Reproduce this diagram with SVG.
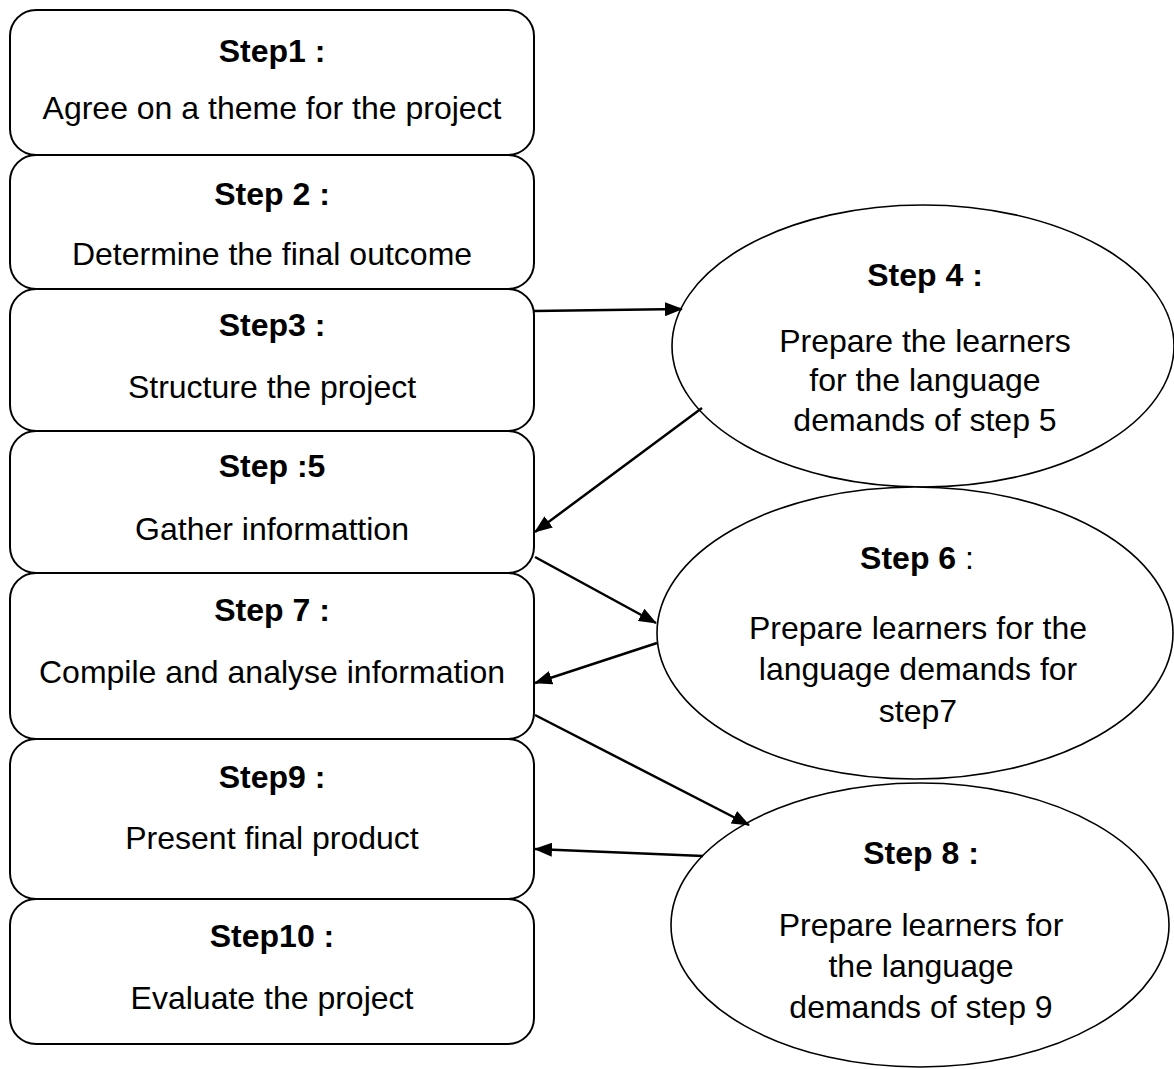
<svg xmlns="http://www.w3.org/2000/svg" width="1174" height="1069" viewBox="0 0 1174 1069">
<style>
.box{fill:#fff;stroke:#000;stroke-width:2}
.ell{fill:#fff;stroke:#000;stroke-width:1.6}
.h{font-family:"Liberation Sans",Arial,sans-serif;font-size:32px;font-weight:bold;text-anchor:middle;fill:#000}
.t{font-family:"Liberation Sans",Arial,sans-serif;font-size:32px;text-anchor:middle;fill:#000}
.c{stroke:#000;stroke-width:2.5;fill:none;marker-end:url(#arr)}
</style>
<defs>
<marker id="arr" viewBox="0 0 18 14" refX="17" refY="7" markerWidth="18" markerHeight="14" markerUnits="userSpaceOnUse" orient="auto">
<path d="M0,0 L18,7 L0,14 z" fill="#000"/>
</marker>
<clipPath id="clip4"><rect x="650" y="200" width="524" height="238"/></clipPath>
</defs>
<g id="step1"><rect class="box" x="10" y="10" width="524" height="145" rx="26"/><text class="h" x="272" y="62">Step1 :</text><text class="t" x="272" y="119">Agree on a theme for the project</text></g>
<g id="step2"><rect class="box" x="10" y="155" width="524" height="134" rx="26"/><text class="h" x="272" y="205">Step 2 :</text><text class="t" x="272" y="265">Determine the final outcome</text></g>
<g id="step3"><rect class="box" x="10" y="289" width="524" height="142" rx="26"/><text class="h" x="272" y="336">Step3 :</text><text class="t" x="272" y="398">Structure the project</text></g>
<g id="step5"><rect class="box" x="10" y="431" width="524" height="142" rx="26"/><text class="h" x="272" y="477">Step :5</text><text class="t" x="272" y="540">Gather informattion</text></g>
<g id="step7"><rect class="box" x="10" y="573" width="524" height="166" rx="26"/><text class="h" x="272" y="621">Step 7 :</text><text class="t" x="272" y="683">Compile and analyse information</text></g>
<g id="step9"><rect class="box" x="10" y="739" width="524" height="160" rx="26"/><text class="h" x="272" y="788">Step9 :</text><text class="t" x="272" y="849">Present final product</text></g>
<g id="step10"><rect class="box" x="10" y="899" width="524" height="145" rx="26"/><text class="h" x="272" y="947">Step10 :</text><text class="t" x="272" y="1009">Evaluate the project</text></g>
<g id="step4"><ellipse class="ell" cx="923" cy="346" rx="251" ry="141"/><g clip-path="url(#clip4)"><text class="h" x="925" y="286">Step 4 :</text><text class="t" x="925" y="352">Prepare the learners</text><text class="t" x="925" y="391">for the language</text><text class="t" x="925" y="431">demands of step 5</text></g></g>
<g id="step6"><ellipse class="ell" cx="915" cy="633" rx="258" ry="146"/><text class="t" x="917" y="569"><tspan font-weight="bold">Step 6</tspan> :</text><text class="t" x="918" y="639">Prepare learners for the</text><text class="t" x="918" y="680">language demands for</text><text class="t" x="918" y="722">step7</text></g>
<g id="step8"><ellipse class="ell" cx="920" cy="925" rx="249" ry="142"/><text class="h" x="921" y="864">Step 8 :</text><text class="t" x="921" y="936">Prepare learners for</text><text class="t" x="921" y="977">the language</text><text class="t" x="921" y="1018">demands of step 9</text></g>
<g id="connectors">
<line class="c" x1="534" y1="311" x2="682" y2="309"/>
<line class="c" x1="702" y1="408" x2="535" y2="532"/>
<line class="c" x1="535" y1="557" x2="656" y2="623"/>
<line class="c" x1="657" y1="643" x2="535" y2="683"/>
<line class="c" x1="535" y1="715" x2="749" y2="825"/>
<line class="c" x1="703" y1="856" x2="535" y2="849"/>
</g>
</svg>
